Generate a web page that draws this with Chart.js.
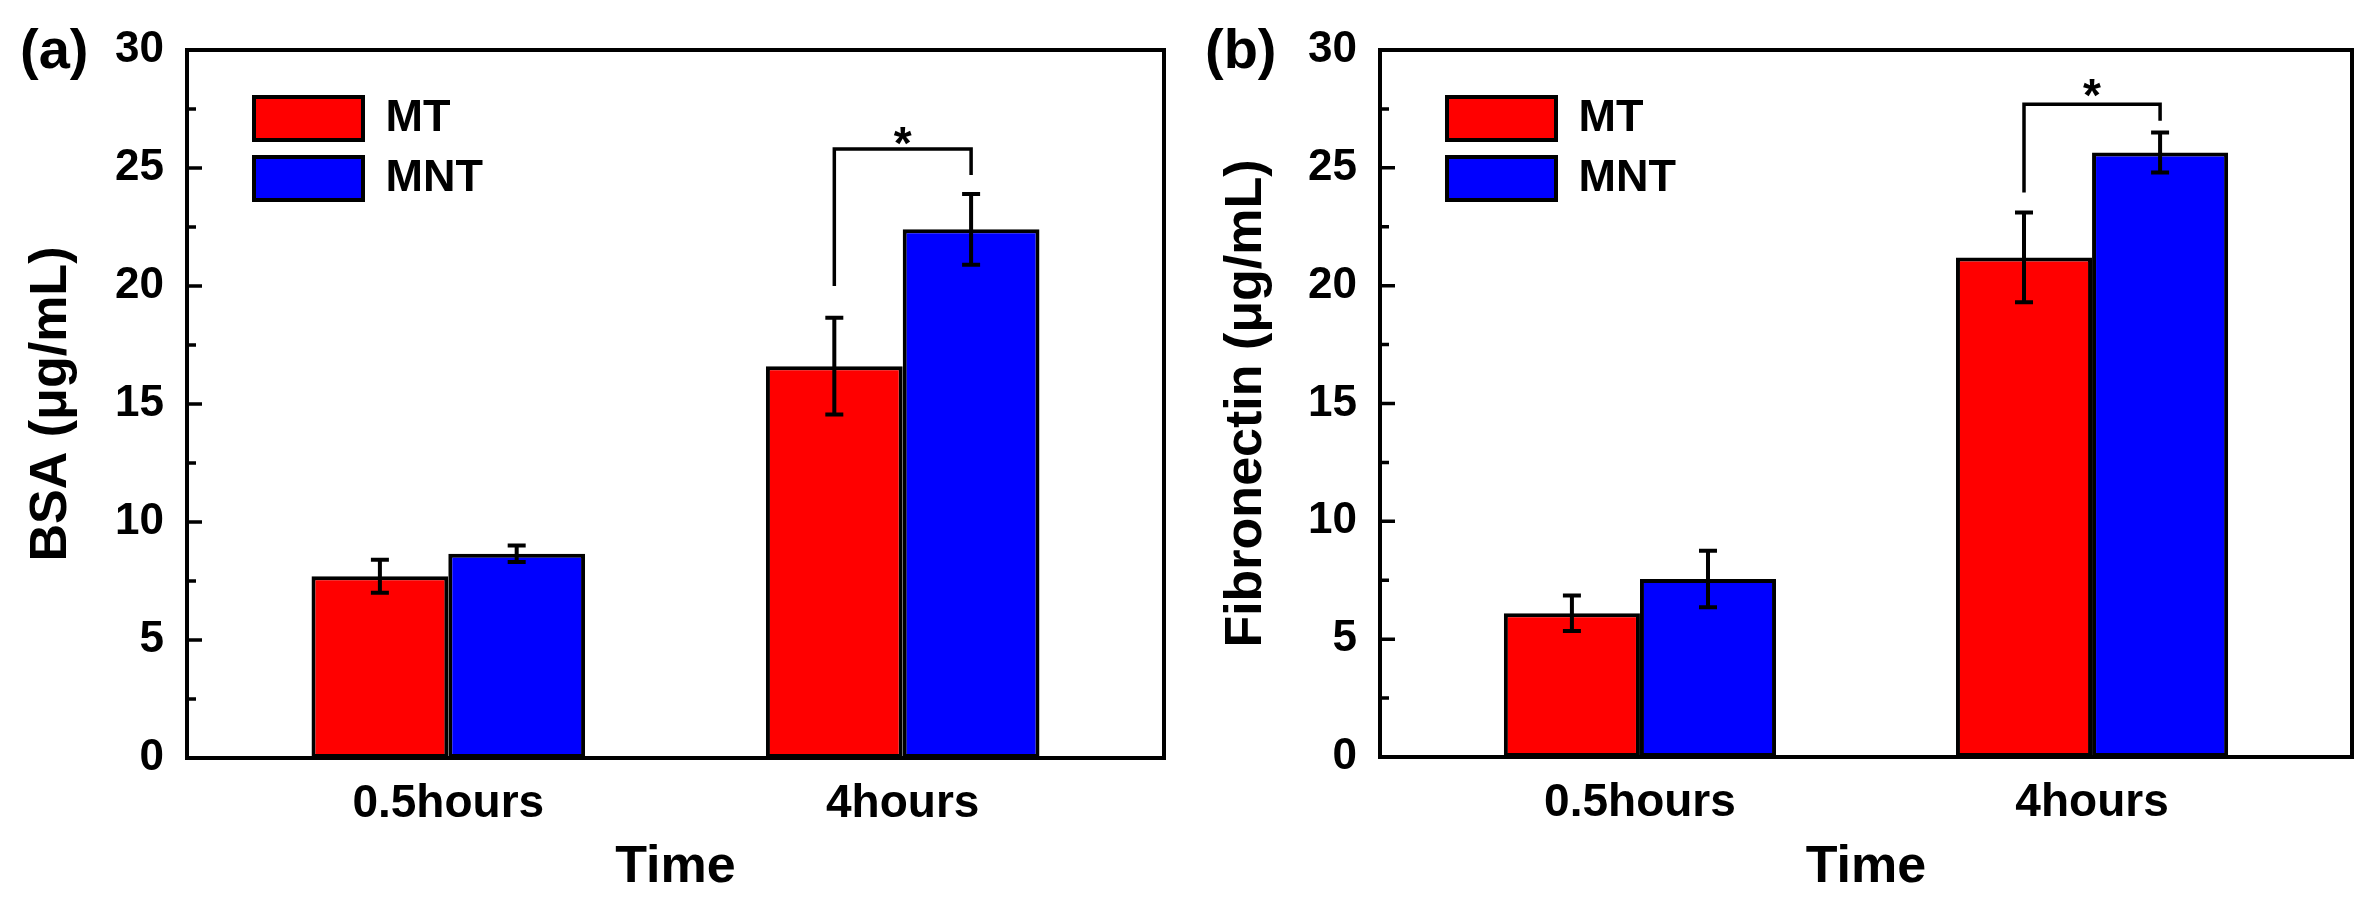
<!DOCTYPE html>
<html>
<head>
<meta charset="utf-8">
<script src="https://cdn.jsdelivr.net/npm/chart.js@4.4.1/dist/chart.umd.min.js"></script>
<style>
  body { margin: 0; background: #fff; }
  .panel { position: absolute; top: 0; }
</style>
</head>
<body>
<div class="panel" style="left:0px"><canvas id="bsa" width="1190" height="907"></canvas></div>
<div class="panel" style="left:1190px"><canvas id="fibronectin" width="1189" height="907"></canvas></div>
<script>
var categories = ['0.5hours', '4hours'];
var seriesNames = ['MT', 'MNT'];
var seriesColors = ['#ff0000', '#0000ff'];
var yTicks = [0, 5, 10, 15, 20, 25, 30];

// (a) BSA
var bsaMT = [7.7, 16.6];
var bsaMTErr = [0.7, 2.05];
var bsaMNT = [8.65, 22.4];
var bsaMNTErr = [0.35, 1.5];
var bsaBracket = [20.0, 25.8, 24.7];   // left leg end, top, right leg end
var bsaStar = 25.4;

// (b) Fibronectin
var fnMT = [6.1, 21.2];
var fnMTErr = [0.75, 1.9];
var fnMNT = [7.55, 25.65];
var fnMNTErr = [1.2, 0.85];
var fnBracket = [23.95, 27.7, 27.0];
var fnStar = 27.4;

Chart.defaults.font.family = "'Liberation Sans', Arial, sans-serif";
Chart.defaults.color = '#000';

function toPoints(values) {
  return categories.map(function (c, i) { return {x: i + 1, y: values[i]}; });
}

function originPlugin(panelLabel, errors, bracket, star) {
  return {
    id: 'origin',
    afterLayout: function (chart) {
      // move legend inside the frame like the Origin plot
      chart.legend.left = chart.chartArea.left + 52;
      chart.legend.top = chart.chartArea.top + 31;
    },
    afterDatasetsDraw: function (chart) {
      var ctx = chart.ctx, a = chart.chartArea, ys = chart.scales.y;
      ctx.save();
      ctx.strokeStyle = '#000';
      ctx.lineWidth = 4;
      ctx.lineCap = 'butt';

      // error bars
      chart.data.datasets.forEach(function (ds, d) {
        chart.getDatasetMeta(d).data.forEach(function (bar, i) {
          var v = ds.data[i].y, e = errors[d][i];
          var top = ys.getPixelForValue(v + e), bot = ys.getPixelForValue(v - e);
          ctx.beginPath();
          ctx.moveTo(bar.x, top); ctx.lineTo(bar.x, bot);
          ctx.moveTo(bar.x - 9, top); ctx.lineTo(bar.x + 9, top);
          ctx.moveTo(bar.x - 9, bot); ctx.lineTo(bar.x + 9, bot);
          ctx.stroke();
        });
      });

      // significance bracket over the 4hours group
      var xl = chart.getDatasetMeta(0).data[1].x;
      var xr = chart.getDatasetMeta(1).data[1].x;
      ctx.lineWidth = 3.5;
      ctx.beginPath();
      ctx.moveTo(xl, ys.getPixelForValue(bracket[0]));
      ctx.lineTo(xl, ys.getPixelForValue(bracket[1]));
      ctx.lineTo(xr, ys.getPixelForValue(bracket[1]));
      ctx.lineTo(xr, ys.getPixelForValue(bracket[2]));
      ctx.stroke();
      ctx.fillStyle = '#000';
      ctx.font = "bold 46px 'Liberation Sans', Arial, sans-serif";
      ctx.textAlign = 'center';
      ctx.textBaseline = 'alphabetic';
      ctx.fillText('*', (xl + xr) / 2, ys.getPixelForValue(star));

      // frame
      ctx.lineWidth = 4;
      ctx.strokeRect(a.left, a.top, a.right - a.left, a.bottom - a.top);

      // inward ticks on the left axis, minor every 2.5
      ctx.lineWidth = 3.5;
      ctx.beginPath();
      for (var v = ys.min; v <= ys.max; v += 2.5) {
        if (v === ys.min || v === ys.max) continue;
        var py = ys.getPixelForValue(v);
        var len = (v % 5 === 0) ? 15 : 9;
        ctx.moveTo(a.left, py); ctx.lineTo(a.left + len, py);
      }
      ctx.stroke();

      // panel letter
      ctx.font = "bold 56px 'Liberation Sans', Arial, sans-serif";
      ctx.textAlign = 'left';
      ctx.textBaseline = 'middle';
      ctx.fillText(panelLabel, chart.options.panelLabelX, 53);
      ctx.restore();
    }
  };
}

function makeChart(id, yTitle, mt, mnt, yWidth, xHeight, padRight, titlePad, panelLabel, labelX, errors, bracket, star) {
  return new Chart(document.getElementById(id), {
    type: 'bar',
    data: {
      datasets: [
        {label: seriesNames[0], data: toPoints(mt), backgroundColor: seriesColors[0]},
        {label: seriesNames[1], data: toPoints(mnt), backgroundColor: seriesColors[1]}
      ]
    },
    options: {
      responsive: false,
      animation: false,
      devicePixelRatio: 1,
      panelLabelX: labelX,
      layout: {padding: {left: 0, right: padRight, top: 50, bottom: 0}},
      datasets: {
        bar: {
          borderColor: '#000',
          borderWidth: 4,
          borderSkipped: false,
          categoryPercentage: 0.602,
          barPercentage: 1
        }
      },
      scales: {
        x: {
          type: 'linear',
          offset: false,
          min: 0.425,
          max: 2.575,
          afterBuildTicks: function (s) {
            s.ticks = categories.map(function (c, i) { return {value: i + 1}; });
          },
          afterFit: function (s) { s.height = xHeight; },
          border: {display: false},
          grid: {display: false, offset: false},
          ticks: {
            padding: 11,
            autoSkip: false,
            maxRotation: 0,
            font: {size: 46, weight: 'bold'},
            callback: function (v) { return categories[v - 1]; }
          },
          title: {display: true, text: 'Time', font: {size: 52, weight: 'bold'}, padding: {bottom: 8}}
        },
        y: {
          min: yTicks[0],
          max: yTicks[yTicks.length - 1],
          afterBuildTicks: function (s) {
            s.ticks = yTicks.map(function (v) { return {value: v}; });
          },
          afterFit: function (s) { s.width = yWidth; },
          border: {display: false},
          grid: {display: false},
          ticks: {padding: 15, font: {size: 44, weight: 'bold'}},
          title: {display: true, text: yTitle, font: {size: 52, weight: 'bold'}, padding: {top: titlePad}}
        }
      },
      plugins: {
        legend: {
          position: 'chartArea',
          align: 'start',
          labels: {
            boxWidth: 109,
            boxHeight: 43,
            padding: 15,
            color: '#000',
            font: {size: 45, weight: 'bold'}
          }
        },
        tooltip: {enabled: false}
      }
    },
    plugins: [originPlugin(panelLabel, errors, bracket, star)]
  });
}

makeChart('bsa', 'BSA (μg/mL)', bsaMT, bsaMNT, 187, 149, 26, 20, '(a)', 20,
  [bsaMTErr, bsaMNTErr], bsaBracket, bsaStar);
makeChart('fibronectin', 'Fibronectin (μg/mL)', fnMT, fnMNT, 190, 150, 27, 25, '(b)', 15,
  [fnMTErr, fnMNTErr], fnBracket, fnStar);
</script>
</body>
</html>
